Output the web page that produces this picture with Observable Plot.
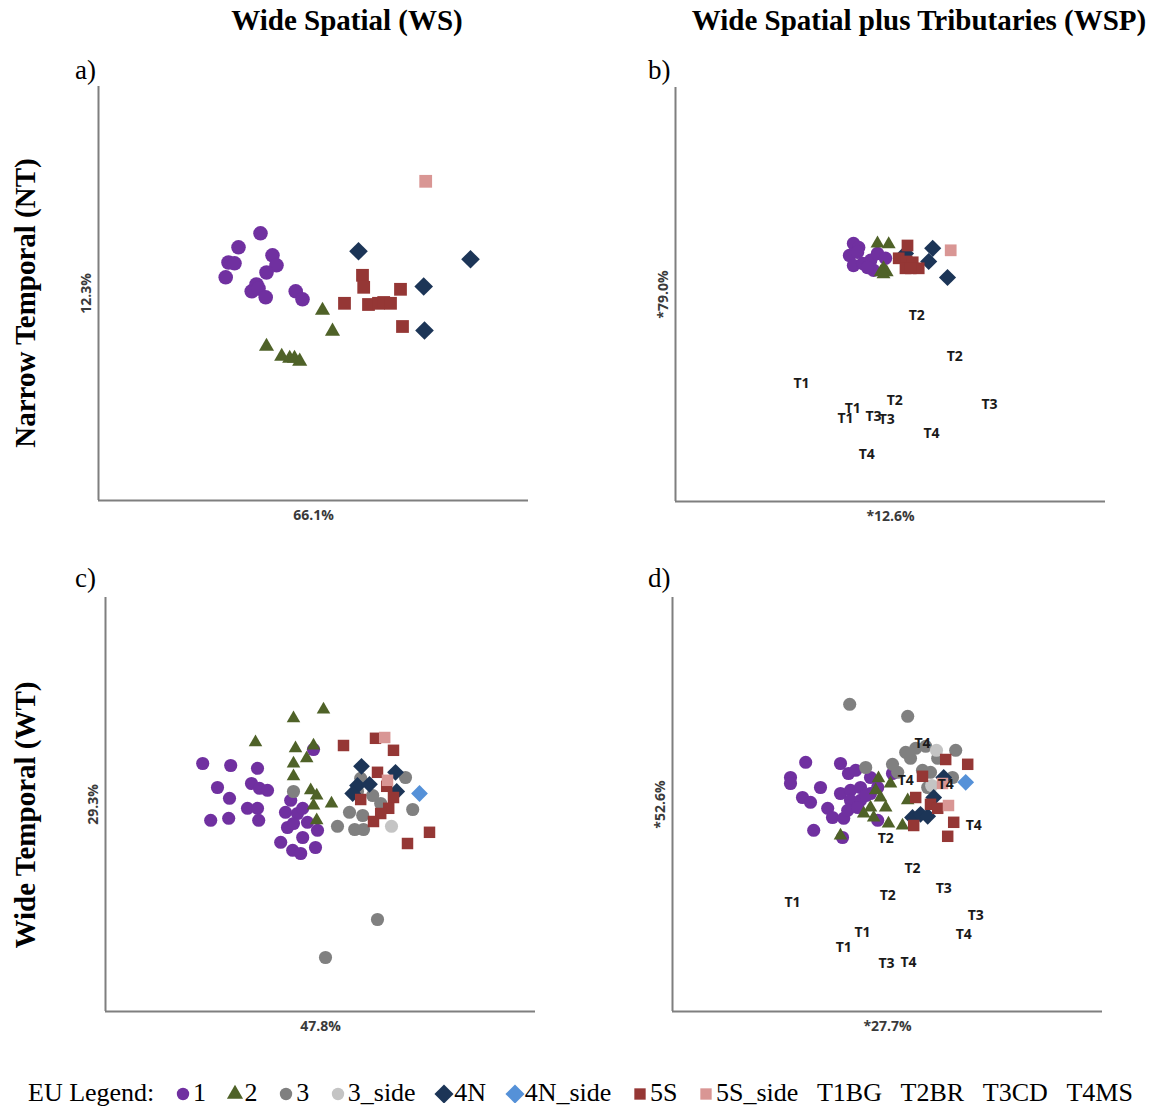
<!DOCTYPE html>
<html><head><meta charset="utf-8">
<script src="https://cdn.jsdelivr.net/npm/d3@7"></script>
<script src="https://cdn.jsdelivr.net/npm/@observablehq/plot@0.6"></script>
<style>
body{margin:0;background:#fff;}
#root{position:relative;width:1156px;height:1110px;font-family:"Liberation Serif","Times New Roman",serif;color:#000;overflow:hidden;}
.abs{position:absolute;white-space:nowrap;line-height:1;}
.title{font-weight:bold;font-size:29px;transform:translateX(-50%);}
.row{font-weight:bold;font-size:29px;transform:translate(-50%,-50%) rotate(-90deg);}
.letter{font-size:27px;}
#legend{position:absolute;left:28px;width:1105px;top:1080px;display:flex;justify-content:space-between;align-items:center;font-size:26px;line-height:1;white-space:nowrap;}
#legend span.item{display:flex;align-items:center;}
</style></head><body><div id="root"></div>
<script>
// ---------- data (ordination scores, arbitrary units) ----------
const euGroups = ["1","2","3","3_side","4N","4N_side","5S","5S_side"];
const euColors = ["#7030a0","#4f6228","#808080","#c4c4c4","#1c3557","#5591d8","#953735","#d99694"];
const euSymbols = ["circle","triangle","circle","circle","diamond2","diamond2","square","square"];
const tribLegend = ["T1BG","T2BR","T3CD","T4MS"];
const panelLetters = ["a)","b)","c)","d)"];
const colTitles = ["Wide Spatial (WS)","Wide Spatial plus Tributaries (WSP)"];
const rowTitles = ["Narrow Temporal (NT)","Wide Temporal (WT)"];
const xLabels = ["66.1%","*12.6%","47.8%","*27.7%"];
const yLabels = ["12.3%","*79.0%","29.3%","*52.6%"];

// panel a (WS, NT)
const A_EU1 = [[40.5,66.8],[35,63.3],[32.5,59.5],[34,59.3],[31.8,55.8],[43.5,61.3],[44.5,58.8],[42,57],[39.5,54],[38.3,52.3],[40,53],[41.8,50.8],[49.3,52.3],[51,50.3]];
const A_EU2 = [[56,47.5],[58.5,42.3],[42,38.5],[45.8,36],[47.8,35.5],[49,35.5],[50.3,34.8]];
const A_EU4N = [[65,62.3],[93,60.3],[81.3,53.5],[81.5,42.5]];
const A_EU5S = [[61.5,49.3],[66,56.3],[66.3,53.3],[67.5,49],[70,49.3],[71.3,49.5],[73,49.3],[75.5,52.8],[76,43.5]];
const A_EU5Sside = [[81.8,79.8]];

// panel b (WSP, NT)
const B_EU1 = [[44.5,64.5],[45.8,63.5],[43.5,61.5],[44.5,59],[46.8,59.5],[48.8,60.3],[49.5,57.8],[50.5,62],[52.5,60.8],[48,58.5],[45.5,62.3]];
const B_EU2 = [[50.5,64.5],[53.3,64.3],[51.3,57.3],[52.8,57.3],[52,58.3],[52,56.8]];
const B_EU4N = [[57.5,62],[64.3,63.3],[63.3,60],[68,56]];
const B_EU5S = [[58,64],[55.8,60.8],[57.8,60],[59.3,59.8],[57.5,58.3],[60.8,58.3],[58.8,58.3]];
const B_EU5Sside = [[68.8,62.8]];
const B_trib = [["T2",60.3,46.5],["T2",69.8,36.3],["T1",31.5,29.5],["T3",78.5,24.3],["T2",54.8,25.3],["T1",44.3,23.3],["T1",42.5,20.8],["T3",49.5,21.3],["T3",52.8,20.5],["T4",64,17],["T4",47.8,11.8]];

// panel c (WS, WT)
const C_EU1 = [[24.3,62],[31.3,61.5],[38,60.8],[28,56],[36.5,57],[38.5,55.8],[40.5,55.3],[31,53.3],[26.3,47.8],[30.8,48.3],[35.5,50.8],[38,50.8],[38.3,47.8],[52,65.5],[45.5,46],[48,49.5],[46.3,52.8],[49.3,50.8],[43.8,42.3],[46.8,40.3],[49.3,43.5],[53,45.3],[52.5,41],[48.8,39.5],[47,47],[45,49.8],[50.5,47.3]];
const C_EU2 = [[54.5,75.5],[47,73.3],[37.5,67.3],[47.5,65.8],[52,66.5],[50.3,63.3],[47,62],[47,58.8],[51.3,55.3],[52.8,54],[52,51.5],[56.5,52],[52.8,47.8]];
const C_EU3 = [[47,55],[75,58.5],[76.8,50.5],[61,49.8],[64.3,49],[58,46.3],[62.3,45.5],[64.5,45.5],[68.8,52],[63,55],[63.8,58.3],[66.8,54],[68,23],[55,13.5]];
const C_EU3side = [[71.5,46.3]];
const C_EU4N = [[64,61.3],[72.5,59.8],[63,56.5],[66,56.8],[61.8,54.5],[72.8,55]];
const C_EU4Nside = [[78.5,54.5]];
const C_EU5S = [[59.5,66.5],[67.5,68.3],[72,65.3],[68,59.8],[63.8,53],[70.3,56.3],[72,53.5],[70.8,50.8],[68.8,49.5],[67,47.5],[81,44.8],[75.5,42]];
const C_EU5Sside = [[69.8,68.5],[70.5,57.8]];

// panel d (WSP, WT)
const D_EU1 = [[33.3,62.3],[42,62],[29.5,58.5],[29.5,57],[37,56],[32.5,53.5],[34.5,52.3],[38.8,50.8],[40,48.5],[42.8,48.3],[35.3,45.3],[42.5,43.5],[44,59.5],[42,54.5],[44.5,55.3],[47,56],[44.5,52.8],[47,52.8],[49.5,54.5],[49.5,58.5],[51.3,56],[43.8,50.3],[46.3,51],[51.3,47.8],[55,59.5],[45.8,60.3],[48.3,54]];
const D_EU2 = [[42,44],[51.5,58.3],[54.5,57],[50.8,55.3],[52,53.5],[49.5,51],[47.8,49.5],[50.3,48.5],[54,47],[57.5,46.5],[58.8,52.8],[53.3,51]];
const D_EU3 = [[44.3,76.8],[58.8,73.8],[58.3,64.8],[60.8,65.8],[63.3,66.3],[70.8,65.3],[55,61.8],[48.3,61],[56.3,59.8],[59.5,63.3],[62.5,60.3],[64.5,59.8],[70,58.5],[66.3,63.3],[63.8,56]];
const D_EU3side = [[66,65.3],[64.8,56.5]];
const D_EU4N = [[60,48.5],[62,49.3],[63.8,48.8],[65.3,53.5],[67.8,58.5]];
const D_EU4Nside = [[73.3,57.3]];
const D_EU5S = [[68.3,63],[73.8,61.8],[62.5,58.8],[60.8,53.5],[64.5,51.8],[66.3,50.8],[70.3,47.3],[60.3,46.5],[68.8,43.8]];
const D_EU5Sside = [[67.5,57],[69,51.5]];
const D_trib = [["T4",62.5,67],["T4",58.3,57.8],["T4",68.3,56.8],["T4",75.3,46.5],["T2",53.3,43.3],["T2",60,35.8],["T3",67.8,30.8],["T2",53.8,29],["T1",30,27.3],["T3",75.8,24],["T4",72.8,19.3],["T1",47.5,19.8],["T1",42.8,16],["T3",53.5,12],["T4",59,12.3]];

// ---------- layout ----------
const root = document.getElementById("root");
const FW = 430, FH = 414, ML = 30, MR = 10, MT = 10, MB = 34;
const baseR = {circle:7.3, square:7.2, triangle:5.6, diamond2:8.4};

const panels = [
  {groups:[A_EU1,A_EU2,null,null,A_EU4N,null,A_EU5S,A_EU5Sside], trib:[], left:98, top:86, scale:1.0},
  {groups:[B_EU1,B_EU2,null,null,B_EU4N,null,B_EU5S,B_EU5Sside], trib:B_trib, left:675, top:87, scale:0.92},
  {groups:[C_EU1,C_EU2,C_EU3,C_EU3side,C_EU4N,C_EU4Nside,C_EU5S,C_EU5Sside], trib:[], left:105, top:597, scale:0.9},
  {groups:[D_EU1,D_EU2,D_EU3,D_EU3side,D_EU4N,D_EU4Nside,D_EU5S,D_EU5Sside], trib:D_trib, left:672, top:597, scale:0.9}
];

panels.forEach((p, i) => {
  const marks = [
    Plot.ruleX([0], {stroke:"#7f7f7f", strokeWidth:2}),
    Plot.ruleY([0], {stroke:"#7f7f7f", strokeWidth:2})
  ];
  p.groups.forEach((g, k) => {
    if (!g) return;
    const sym = euSymbols[k];
    marks.push(Plot.dot(g, {x:d=>d[0], y:d=>d[1], symbol:sym, r:baseR[sym]*p.scale, fill:euColors[k], stroke:"none"}));
  });
  marks.push(Plot.text(p.trib, {x:d=>d[1], y:d=>d[2], text:d=>d[0], fontSize:14, fontWeight:"bold", fill:"#1a1a1a"}));
  marks.push(Plot.text([xLabels[i]], {frameAnchor:"bottom", textAnchor:"middle", lineAnchor:"middle", dy:15, fontSize:14, fontWeight:"bold", fill:"#3a3a3a"}));
  marks.push(Plot.text([yLabels[i]], {frameAnchor:"left", textAnchor:"middle", lineAnchor:"middle", rotate:-90, dx:-12, fontSize:14, fontWeight:"bold", fill:"#3a3a3a"}));
  const svg = Plot.plot({
    width: FW+ML+MR, height: FH+MT+MB,
    marginLeft:ML, marginRight:MR, marginTop:MT, marginBottom:MB,
    x:{domain:[0, FW/4], axis:null},
    y:{domain:[0, FH/4], axis:null},
    style:{fontFamily:"'Open Sans', sans-serif", background:"transparent", overflow:"visible"},
    marks
  });
  const wrap = document.createElement("div");
  wrap.className = "abs";
  wrap.style.left = (p.left-ML)+"px";
  wrap.style.top = (p.top-MT)+"px";
  wrap.style.width = (FW+ML+MR)+"px";
  wrap.appendChild(svg);
  root.appendChild(wrap);
});

function addText(txt, cls, left, top) {
  const d = document.createElement("div");
  d.className = "abs " + cls;
  d.textContent = txt;
  d.style.left = left+"px"; d.style.top = top+"px";
  root.appendChild(d);
  return d;
}
addText(colTitles[0], "title", 347, 6);
addText(colTitles[1], "title", 919, 6);
addText(rowTitles[0], "row", 25, 303);
addText(rowTitles[1], "row", 25, 815);
addText(panelLetters[0], "letter", 75, 57);
addText(panelLetters[1], "letter", 648, 57);
addText(panelLetters[2], "letter", 75, 565);
addText(panelLetters[3], "letter", 648, 565);

// legend
const legend = document.createElement("div");
legend.id = "legend";
const lab = document.createElement("span"); lab.textContent = "EU Legend:"; legend.appendChild(lab);
const symMap = {circle:d3.symbolCircle, square:d3.symbolSquare, triangle:d3.symbolTriangle, diamond2:d3.symbolDiamond2};
const legR = {circle:6.2, square:6.4, triangle:6.0, diamond2:8.6};
euGroups.forEach((g, k) => {
  const item = document.createElement("span"); item.className = "item";
  const s = d3.create("svg").attr("width", 20).attr("height", 20);
  const rr = legR[euSymbols[k]];
  s.append("path").attr("transform","translate(10,11)")
    .attr("d", d3.symbol(symMap[euSymbols[k]], Math.PI*rr*rr)()).attr("fill", euColors[k]);
  item.appendChild(s.node());
  const t = document.createElement("span"); t.textContent = g; item.appendChild(t);
  legend.appendChild(item);
});
tribLegend.forEach(t => { const s = document.createElement("span"); s.textContent = t; legend.appendChild(s); });
root.appendChild(legend);
</script></body></html>
